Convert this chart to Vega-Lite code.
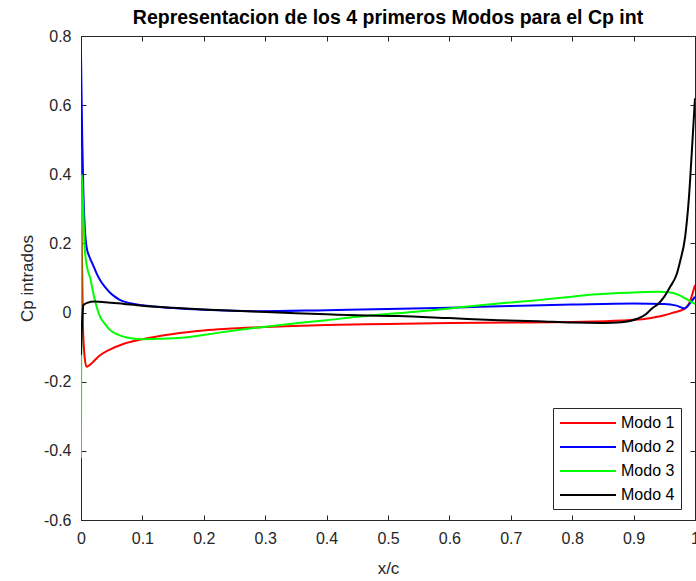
{
  "$schema": "https://vega.github.io/schema/vega-lite/v6.json",
  "width": 614,
  "height": 484,
  "autosize": {"type": "none"},
  "padding": {"left": 81, "top": 36, "right": 1, "bottom": 61},
  "background": "white",
  "title": {"text": "Representacion de los 4 primeros Modos para el Cp int", "font": "Liberation Sans", "fontSize": 19.5, "fontWeight": "bold", "color": "#000000", "offset": 0},
  "config": {
    "view": {"stroke": null},
    "axis": {
      "grid": false,
      "domainColor": "#262626",
      "domainWidth": 1,
      "tickColor": "#262626",
      "tickSize": -5,
      "labelFont": "Liberation Sans",
      "labelFontSize": 16,
      "labelColor": "#262626",
      "titleFont": "Liberation Sans",
      "titleFontSize": 17,
      "titleFontWeight": "normal",
      "titleColor": "#262626"
    }
  },
  "data": {"values": [
    {"x": 0, "y": 0.48, "s": "Modo 1"},
    {"x": 0.001, "y": 0.25, "s": "Modo 1"},
    {"x": 0.003, "y": -0.03, "s": "Modo 1"},
    {"x": 0.006, "y": -0.13, "s": "Modo 1"},
    {"x": 0.009, "y": -0.157, "s": "Modo 1"},
    {"x": 0.014, "y": -0.152, "s": "Modo 1"},
    {"x": 0.02, "y": -0.142, "s": "Modo 1"},
    {"x": 0.03, "y": -0.125, "s": "Modo 1"},
    {"x": 0.047, "y": -0.107, "s": "Modo 1"},
    {"x": 0.07, "y": -0.09, "s": "Modo 1"},
    {"x": 0.1, "y": -0.077, "s": "Modo 1"},
    {"x": 0.15, "y": -0.062, "s": "Modo 1"},
    {"x": 0.2, "y": -0.052, "s": "Modo 1"},
    {"x": 0.3, "y": -0.042, "s": "Modo 1"},
    {"x": 0.4, "y": -0.036, "s": "Modo 1"},
    {"x": 0.5, "y": -0.033, "s": "Modo 1"},
    {"x": 0.6, "y": -0.03, "s": "Modo 1"},
    {"x": 0.7, "y": -0.029, "s": "Modo 1"},
    {"x": 0.8, "y": -0.027, "s": "Modo 1"},
    {"x": 0.88, "y": -0.023, "s": "Modo 1"},
    {"x": 0.92, "y": -0.018, "s": "Modo 1"},
    {"x": 0.95, "y": -0.008, "s": "Modo 1"},
    {"x": 0.965, "y": 0.0, "s": "Modo 1"},
    {"x": 0.982, "y": 0.01, "s": "Modo 1"},
    {"x": 0.99, "y": 0.025, "s": "Modo 1"},
    {"x": 1.0, "y": 0.08, "s": "Modo 1"},

    {"x": 0, "y": 0.75, "s": "Modo 2"},
    {"x": 0.001, "y": 0.62, "s": "Modo 2"},
    {"x": 0.002, "y": 0.5, "s": "Modo 2"},
    {"x": 0.004, "y": 0.34, "s": "Modo 2"},
    {"x": 0.006, "y": 0.25, "s": "Modo 2"},
    {"x": 0.009, "y": 0.19, "s": "Modo 2"},
    {"x": 0.014, "y": 0.16, "s": "Modo 2"},
    {"x": 0.019, "y": 0.14, "s": "Modo 2"},
    {"x": 0.025, "y": 0.115, "s": "Modo 2"},
    {"x": 0.031, "y": 0.094, "s": "Modo 2"},
    {"x": 0.04, "y": 0.072, "s": "Modo 2"},
    {"x": 0.047, "y": 0.058, "s": "Modo 2"},
    {"x": 0.055, "y": 0.046, "s": "Modo 2"},
    {"x": 0.063, "y": 0.037, "s": "Modo 2"},
    {"x": 0.08, "y": 0.027, "s": "Modo 2"},
    {"x": 0.1, "y": 0.021, "s": "Modo 2"},
    {"x": 0.15, "y": 0.013, "s": "Modo 2"},
    {"x": 0.2, "y": 0.008, "s": "Modo 2"},
    {"x": 0.29, "y": 0.004, "s": "Modo 2"},
    {"x": 0.4, "y": 0.007, "s": "Modo 2"},
    {"x": 0.5, "y": 0.01, "s": "Modo 2"},
    {"x": 0.6, "y": 0.014, "s": "Modo 2"},
    {"x": 0.7, "y": 0.019, "s": "Modo 2"},
    {"x": 0.8, "y": 0.023, "s": "Modo 2"},
    {"x": 0.9, "y": 0.026, "s": "Modo 2"},
    {"x": 0.95, "y": 0.025, "s": "Modo 2"},
    {"x": 0.97, "y": 0.02, "s": "Modo 2"},
    {"x": 0.983, "y": 0.012, "s": "Modo 2"},
    {"x": 0.991, "y": 0.025, "s": "Modo 2"},
    {"x": 1.0, "y": 0.046, "s": "Modo 2"},

    {"x": 0, "y": -0.42, "s": "Modo 3"},
    {"x": 0.0012, "y": 0.4, "s": "Modo 3"},
    {"x": 0.003, "y": 0.33, "s": "Modo 3"},
    {"x": 0.006, "y": 0.19, "s": "Modo 3"},
    {"x": 0.01, "y": 0.13, "s": "Modo 3"},
    {"x": 0.015, "y": 0.1, "s": "Modo 3"},
    {"x": 0.02, "y": 0.056, "s": "Modo 3"},
    {"x": 0.025, "y": 0.02, "s": "Modo 3"},
    {"x": 0.031, "y": -0.012, "s": "Modo 3"},
    {"x": 0.04, "y": -0.035, "s": "Modo 3"},
    {"x": 0.047, "y": -0.05, "s": "Modo 3"},
    {"x": 0.06, "y": -0.064, "s": "Modo 3"},
    {"x": 0.074, "y": -0.072, "s": "Modo 3"},
    {"x": 0.1, "y": -0.077, "s": "Modo 3"},
    {"x": 0.13, "y": -0.076, "s": "Modo 3"},
    {"x": 0.18, "y": -0.07, "s": "Modo 3"},
    {"x": 0.225, "y": -0.058, "s": "Modo 3"},
    {"x": 0.29, "y": -0.043, "s": "Modo 3"},
    {"x": 0.35, "y": -0.031, "s": "Modo 3"},
    {"x": 0.4, "y": -0.022, "s": "Modo 3"},
    {"x": 0.45, "y": -0.012, "s": "Modo 3"},
    {"x": 0.5, "y": -0.004, "s": "Modo 3"},
    {"x": 0.55, "y": 0.003, "s": "Modo 3"},
    {"x": 0.6, "y": 0.012, "s": "Modo 3"},
    {"x": 0.68, "y": 0.026, "s": "Modo 3"},
    {"x": 0.744, "y": 0.036, "s": "Modo 3"},
    {"x": 0.8, "y": 0.046, "s": "Modo 3"},
    {"x": 0.84, "y": 0.053, "s": "Modo 3"},
    {"x": 0.9, "y": 0.058, "s": "Modo 3"},
    {"x": 0.94, "y": 0.06, "s": "Modo 3"},
    {"x": 0.96, "y": 0.058, "s": "Modo 3"},
    {"x": 0.975, "y": 0.05, "s": "Modo 3"},
    {"x": 0.985, "y": 0.04, "s": "Modo 3"},
    {"x": 1.0, "y": 0.025, "s": "Modo 3"},

    {"x": 0, "y": -0.123, "s": "Modo 4"},
    {"x": 0.002, "y": -0.02, "s": "Modo 4"},
    {"x": 0.004, "y": 0.022, "s": "Modo 4"},
    {"x": 0.01, "y": 0.028, "s": "Modo 4"},
    {"x": 0.022, "y": 0.032, "s": "Modo 4"},
    {"x": 0.04, "y": 0.03, "s": "Modo 4"},
    {"x": 0.07, "y": 0.025, "s": "Modo 4"},
    {"x": 0.1, "y": 0.02, "s": "Modo 4"},
    {"x": 0.15, "y": 0.014, "s": "Modo 4"},
    {"x": 0.2, "y": 0.009, "s": "Modo 4"},
    {"x": 0.28, "y": 0.003, "s": "Modo 4"},
    {"x": 0.35, "y": -0.002, "s": "Modo 4"},
    {"x": 0.4, "y": -0.005, "s": "Modo 4"},
    {"x": 0.45, "y": -0.008, "s": "Modo 4"},
    {"x": 0.517, "y": -0.01, "s": "Modo 4"},
    {"x": 0.6, "y": -0.016, "s": "Modo 4"},
    {"x": 0.68, "y": -0.022, "s": "Modo 4"},
    {"x": 0.744, "y": -0.025, "s": "Modo 4"},
    {"x": 0.8, "y": -0.029, "s": "Modo 4"},
    {"x": 0.85, "y": -0.03, "s": "Modo 4"},
    {"x": 0.88, "y": -0.028, "s": "Modo 4"},
    {"x": 0.906, "y": -0.018, "s": "Modo 4"},
    {"x": 0.92, "y": -0.005, "s": "Modo 4"},
    {"x": 0.93, "y": 0.012, "s": "Modo 4"},
    {"x": 0.94, "y": 0.025, "s": "Modo 4"},
    {"x": 0.95, "y": 0.046, "s": "Modo 4"},
    {"x": 0.96, "y": 0.076, "s": "Modo 4"},
    {"x": 0.97, "y": 0.11, "s": "Modo 4"},
    {"x": 0.976, "y": 0.15, "s": "Modo 4"},
    {"x": 0.984, "y": 0.22, "s": "Modo 4"},
    {"x": 0.99, "y": 0.33, "s": "Modo 4"},
    {"x": 0.995, "y": 0.47, "s": "Modo 4"},
    {"x": 1.0, "y": 0.62, "s": "Modo 4"}
  ]},
  "layer": [
    {
      "mark": {"type": "line", "strokeWidth": 2, "interpolate": "monotone", "clip": true},
      "encoding": {
        "x": {"field": "x", "type": "quantitative",
          "scale": {"domain": [0, 1], "nice": false, "zero": false},
          "axis": {"orient": "bottom", "title": "x/c", "values": [0, 0.1, 0.2, 0.3, 0.4, 0.5, 0.6, 0.7, 0.8, 0.9, 1],
            "labelExpr": "replace(format(datum.value, '.1~f'), '\u2212', '-')", "labelPadding": 15, "titlePadding": 14, "labelFlush": false}},
        "y": {"field": "y", "type": "quantitative",
          "scale": {"domain": [-0.6, 0.8], "nice": false, "zero": false},
          "axis": {"orient": "left", "title": "Cp intrados", "values": [-0.6, -0.4, -0.2, 0, 0.2, 0.4, 0.6, 0.8],
            "labelExpr": "replace(format(datum.value, '.1~f'), '\u2212', '-')", "labelPadding": 15, "titlePadding": 7, "labelFlush": false}},
        "color": {"field": "s", "type": "nominal",
          "scale": {"domain": ["Modo 1", "Modo 2", "Modo 3", "Modo 4"], "range": ["#ff0000", "#0000ff", "#00ff00", "#000000"]},
          "legend": {"orient": "none", "legendX": 472, "legendY": 372, "title": null,
            "symbolType": "M-3.5,0H3.5", "symbolSize": 256, "symbolStrokeWidth": 2, "symbolOffset": 20,
            "labelFont": "Liberation Sans", "labelFontSize": 16, "labelColor": "#000000", "labelOffset": 24,
            "strokeColor": "#262626", "fillColor": "#ffffff", "padding": 6, "rowPadding": 7}}
      }
    },
    {
      "mark": {"type": "line", "opacity": 0},
      "encoding": {
        "x": {"field": "x", "type": "quantitative",
          "scale": {"domain": [0, 1], "nice": false, "zero": false},
          "axis": {"orient": "top", "title": null, "labels": false, "values": [0, 0.1, 0.2, 0.3, 0.4, 0.5, 0.6, 0.7, 0.8, 0.9, 1]}},
        "y": {"field": "y", "type": "quantitative",
          "scale": {"domain": [-0.6, 0.8], "nice": false, "zero": false},
          "axis": {"orient": "right", "title": null, "labels": false, "values": [-0.6, -0.4, -0.2, 0, 0.2, 0.4, 0.6, 0.8]}}
      }
    }
  ],
  "resolve": {"axis": {"x": "independent", "y": "independent"}}
}
